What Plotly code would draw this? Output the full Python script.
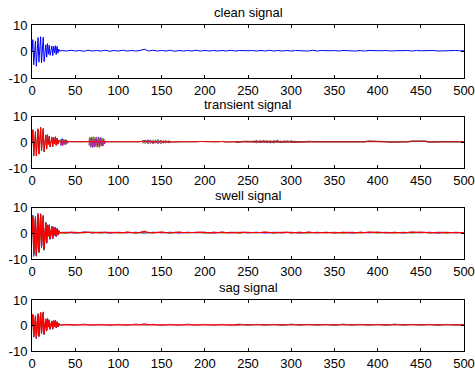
import plotly.graph_objects as go

# ---------------- data ----------------
x_head = list(range(0, 33))                 # sample index 0..32
x_tail = list(range(35, 501, 5))            # sample index 35..500
x_tail_c = list(range(40, 501, 10))         # coarse tail for secondary series

clean_head = [0.0, 4.5, -5.0, -1.0, 4.0, -5.5, 1.0, 5.3, -4.0, -0.5, 5.6, -4.2, 2.0, 5.4, -3.8, 1.0,
              2.6, -2.1, 3.0, -1.0, 2.4, -1.4, 0.5, 2.1, -1.5, 1.9, -0.5, 2.2, -1.1, 2.0, -0.6, 0.9, 0.2]
clean_tail = [0.4, 0.2, 0.5, 0.2, 0.4, 0.1, 0.5, 0.2, 0.4, 0.2, 0.5, 0.1, 0.4, 0.2, 0.5, 0.2, 0.4, 0.2, 0.4, 0.9,
              0.2, 0.5, 0.2, 0.4, 0.2, 0.5, 0.1, 0.4, 0.2, 0.4, 0.2, 0.5, 0.2, 0.4, 0.2, 0.4, 0.2, 0.4, 0.2, 0.5,
              0.2, 0.4, 0.3, 0.3, 0.4, 0.2, 0.4, 0.2, 0.5, 0.2, 0.4, 0.2, 0.4, 0.2, 0.4, 0.3, 0.4, 0.2, 0.5, 0.2,
              0.4, 0.3, 0.3, 0.4, 0.2, 0.4, 0.3, 0.4, 0.2, 0.4, 0.2, 0.4, 0.3, 0.4, 0.3, 0.4, 0.2, 0.3, 0.4, 0.3,
              0.4, 0.2, 0.4, 0.3, 0.4, 0.3, 0.4, 0.2, 0.3, 0.4, 0.3, 0.4, 0.3, 0.3]

# transient signal
tr_red_head = [0.0, 4.8, -5.0, -0.5, 4.0, -5.3, 1.2, 5.1, -4.6, -0.8, 5.8, -3.0, 1.5, 5.6, -3.4, 0.5,
               2.8, -2.3, 2.9, -0.8, 2.2, -1.6, 0.4, 2.0, -1.4, 1.8, -0.4, 2.0, -1.0, 1.6, -0.5, 0.8, 0.2]
tr_gray_head = [0.0, 5.1, -5.3, -0.3, 4.3, -5.0, 1.5, 5.4, -4.3, -0.5, 6.0, -3.3, 1.8, 5.2, -3.7, 0.8,
                3.0, -2.6, 3.1, -0.6, 2.5, -1.8, 0.6, 2.2, -1.7, 2.0, -0.6, 2.3, -1.2, 1.8, -0.7, 1.0, 0.3]
tr_red_tail = [0.3, 0.2, 0.4, 0.3, 0.2, 0.3, 0.4, 0.2, 0.3, 0.3, 0.4, 0.2, 0.3, 0.3, 0.2, 0.4, 0.3, 0.2, 0.3, 0.6,
               0.3, 0.2, 0.3, 0.4, 0.3, 0.2, 0.3, 0.4, 0.3, 0.3, 0.2, 0.3, 0.4, 0.3, 0.2, 0.3, 0.3, 0.4, 0.2, 0.3,
               0.3, 0.2, 0.4, 0.3, 0.3, 0.2, 0.3, 0.4, 0.3, 0.2, 0.3, 0.3, 0.4, 0.2, 0.3, 0.3, 0.2, 0.4, 0.3, 0.3,
               0.3, 0.4, 0.3, 0.2, 0.3, 0.4, 0.4, 0.3, 0.2, 0.3, 0.3, 0.5, 0.5, 0.5, 0.5, 0.3, 0.2, 0.2, 0.2, 0.3,
               0.3, 0.5, 0.5, 0.5, 0.5, 0.2, 0.3, 0.3, 0.3, 0.3, 0.3, 0.3, 0.3, 0.3]
# transient bursts: segments of sample indices
tb_x1 = list(range(33, 43))
tb_x2 = list(range(66, 86))
tb_x3 = list(range(128, 162, 3))
tb_x4 = list(range(256, 309, 4))
tr_blue = [1.2, -0.8, 1.5, -1.0, 0.9, -0.6, 1.1, -0.4, 0.7, 0.3,
           0.5, 1.8, -1.5, 2.2, -1.2, 1.6, -1.8, 2.0, -0.9, 1.4, -1.6, 2.1, -1.0, 1.7, -1.3, 1.2, -0.8, 1.5, -0.6, 0.4,
           0.9, -0.4, 1.1, -0.5, 0.8, -0.3, 1.2, -0.6, 0.7, -0.2, 0.6, 0.3,
           0.7, -0.1, 0.8, 0.0, 0.6, -0.2, 0.7, 0.1, 0.5, 0.0, 0.6, 0.1, 0.4, 0.3]
tr_green = [-0.9, 1.4, -1.1, 1.0, -0.7, 1.2, -0.5, 0.8, -0.2, 0.4,
            -1.2, 2.0, -1.9, 1.5, -1.4, 2.3, -1.1, 1.8, -1.7, 1.0, -1.3, 1.6, -2.0, 1.2, -0.9, 1.9, -1.1, 0.8, -0.4, 0.5,
            -0.3, 1.0, -0.6, 0.9, -0.2, 1.1, -0.5, 0.6, -0.1, 0.8, 0.0, 0.4,
            0.0, 0.8, -0.1, 0.7, 0.1, 0.6, -0.2, 0.8, 0.0, 0.5, 0.1, 0.7, 0.2, 0.3]
tr_yellow = [1.0, -1.2, 0.8, -0.9, 1.3, -0.4, 0.6, -0.7, 0.9, 0.2,
             1.5, -1.0, 1.9, -1.7, 1.1, -1.4, 2.2, -1.2, 1.6, -1.9, 1.3, -1.1, 1.8, -1.5, 1.0, -1.0, 1.4, -0.7, 1.0, 0.3,
             1.0, -0.5, 0.7, -0.4, 1.2, -0.2, 0.9, -0.5, 1.0, -0.1, 0.7, 0.2,
             0.8, 0.0, 0.6, 0.1, 0.9, -0.1, 0.6, 0.0, 0.7, 0.1, 0.5, 0.0, 0.6, 0.3]
tr_magenta = [-1.1, 0.9, -1.3, 1.2, -0.8, 0.7, -0.9, 1.0, -0.3, 0.2,
              -0.8, 1.6, -1.3, 1.9, -2.1, 1.2, -1.5, 1.4, -1.1, 2.2, -1.8, 1.0, -1.4, 2.0, -1.2, 0.9, -1.5, 1.1, -0.5, 0.3,
              -0.4, 0.8, -0.3, 1.1, -0.6, 0.7, -0.4, 1.0, -0.2, 0.6, -0.1, 0.3,
              0.1, 0.7, 0.0, 0.8, -0.1, 0.6, 0.1, 0.9, 0.0, 0.6, 0.2, 0.5, 0.1, 0.3]

# swell signal
sw_red_head = [0.0, 6.5, -7.5, -1.0, 6.0, -8.5, 1.5, 7.5, -7.0, -1.0, 7.8, -5.0, 2.0, 6.8, -6.0, 0.5,
               4.0, -3.5, 3.0, -1.0, 3.2, -2.0, 0.5, 2.6, -1.8, 2.4, -0.5, 2.2, -1.0, 1.8, -0.5, 1.0, 0.2]
sw_blue_head = [0.0, 7.2, -9.0, -0.6, 6.5, -8.8, 1.9, 7.9, -7.4, -0.6, 7.4, -5.6, 2.4, 7.1, -6.4, 0.9,
                4.4, -3.9, 3.4, -0.7, 3.5, -2.3, 0.8, 2.9, -2.1, 2.6, -0.8, 2.4, -1.2, 2.0, -0.7, 1.2, 0.3]
sw_green_head = [0.0, 6.9, -8.2, -1.3, 6.8, -8.1, 1.2, 7.0, -7.6, -1.3, 7.2, -5.3, 1.7, 6.4, -6.6, 0.3,
                 4.3, -3.2, 3.3, -1.2, 3.0, -2.2, 0.3, 2.4, -1.7, 2.2, -0.4, 2.0, -1.1, 1.6, -0.6, 0.9, 0.2]
sw_gray_head = [0.0, 6.2, -8.0, -0.8, 5.7, -8.9, 1.3, 7.2, -7.2, -0.9, 7.5, -5.4, 2.2, 6.6, -6.2, 0.6,
                4.1, -3.7, 3.2, -0.9, 3.3, -2.1, 0.6, 2.7, -1.9, 2.5, -0.6, 2.3, -1.1, 1.9, -0.6, 1.1, 0.2]
sw_red_tail = [0.4, 0.2, 0.5, 0.3, 0.2, 0.4, 0.5, 0.2, 0.4, 0.3, 0.5, 0.2, 0.4, 0.3, 0.2, 0.5, 0.3, 0.2, 0.4, 0.8,
               0.3, 0.2, 0.4, 0.5, 0.3, 0.2, 0.4, 0.5, 0.3, 0.3, 0.2, 0.4, 0.5, 0.3, 0.2, 0.4, 0.3, 0.5, 0.2, 0.3,
               0.4, 0.2, 0.5, 0.3, 0.3, 0.2, 0.4, 0.5, 0.3, 0.2, 0.4, 0.3, 0.5, 0.2, 0.3, 0.4, 0.2, 0.5, 0.3, 0.3,
               0.4, 0.5, 0.3, 0.2, 0.3, 0.5, 0.4, 0.3, 0.2, 0.4, 0.3, 0.5, 0.5, 0.5, 0.4, 0.3, 0.2, 0.2, 0.3, 0.3,
               0.4, 0.5, 0.5, 0.5, 0.4, 0.2, 0.3, 0.3, 0.4, 0.3, 0.3, 0.4, 0.3, 0.3]
sw_blue_tail = [0.5, 0.1, 0.6, 0.2, 0.5, 0.1, 0.5, 0.2, 0.5, 0.1, 0.5, 0.2, 0.5, 0.1, 0.5, 0.2,
                0.5, 0.1, 0.5, 0.2, 0.5, 0.2, 0.5, 0.1, 0.5, 0.2, 0.5, 0.1, 0.5, 0.2, 0.5, 0.2,
                0.5, 0.1, 0.5, 0.2, 0.5, 0.2, 0.5, 0.1, 0.5, 0.2, 0.5, 0.1, 0.5, 0.2, 0.4]
sw_green_tail = [0.1, 0.5, 0.2, 0.6, 0.1, 0.5, 0.2, 0.5, 0.1, 0.5, 0.2, 0.5, 0.1, 0.5, 0.2, 0.5,
                 0.1, 0.5, 0.2, 0.5, 0.1, 0.5, 0.2, 0.5, 0.1, 0.5, 0.2, 0.5, 0.1, 0.5, 0.2, 0.5,
                 0.1, 0.5, 0.2, 0.5, 0.1, 0.5, 0.2, 0.5, 0.1, 0.5, 0.2, 0.5, 0.1, 0.5, 0.3]

# sag signal
sg_red_head = [0.0, 4.5, -4.2, -0.5, 3.6, -4.8, 1.0, 4.4, -4.0, -0.6, 5.2, -2.8, 1.2, 5.4, -3.2, 0.4,
               2.4, -1.9, 2.6, -0.6, 2.0, -1.3, 0.3, 1.7, -1.2, 1.8, -0.3, 1.9, -0.7, 1.4, -0.4, 0.8, 0.2]
sg_purple_head = [0.0, 4.0, -4.6, -0.2, 3.2, -5.3, 1.3, 4.8, -4.5, -0.3, 4.8, -3.3, 1.5, 5.0, -3.7, 0.7,
                  2.7, -2.2, 2.9, -0.4, 2.3, -1.6, 0.5, 1.9, -1.5, 2.0, -0.5, 2.2, -0.9, 1.6, -0.5, 0.9, 0.3]
sg_gray_head = [0.0, 4.2, -4.4, -0.4, 3.9, -5.0, 1.1, 4.6, -4.2, -0.4, 5.0, -3.0, 1.4, 5.2, -3.5, 0.5,
                2.5, -2.0, 2.7, -0.5, 2.1, -1.4, 0.4, 1.8, -1.3, 1.9, -0.4, 2.0, -0.8, 1.5, -0.4, 0.8, 0.2]
sg_red_tail = [0.3, 0.3, 0.4, 0.3, 0.3, 0.4, 0.4, 0.3, 0.3, 0.3, 0.4, 0.3, 0.3, 0.3, 0.3, 0.4, 0.3, 0.3, 0.3, 0.7,
               0.3, 0.3, 0.3, 0.4, 0.3, 0.3, 0.3, 0.4, 0.3, 0.3, 0.3, 0.3, 0.4, 0.3, 0.3, 0.3, 0.3, 0.4, 0.3, 0.3,
               0.3, 0.3, 0.4, 0.3, 0.3, 0.3, 0.3, 0.4, 0.3, 0.3, 0.3, 0.3, 0.4, 0.3, 0.3, 0.3, 0.3, 0.4, 0.3, 0.3,
               0.3, 0.4, 0.3, 0.3, 0.3, 0.4, 0.4, 0.3, 0.2, 0.3, 0.3, 0.4, 0.4, 0.4, 0.3, 0.3, 0.2, 0.2, 0.2, 0.3,
               0.3, 0.4, 0.4, 0.4, 0.3, 0.2, 0.3, 0.3, 0.3, 0.3, 0.3, 0.3, 0.3, 0.3]
sg_purple_tail = [0.5, 0.1, 0.6, 0.1, 0.5, 0.0, 0.5, 0.1, 0.6, 0.1, 0.5, 0.0, 0.5, 0.1, 0.6, 0.1,
                  0.5, 0.1, 0.5, 0.0, 0.6, 0.1, 0.5, 0.1, 0.5, 0.0, 0.6, 0.1, 0.5, 0.1, 0.5, 0.0,
                  0.6, 0.1, 0.5, 0.1, 0.5, 0.0, 0.6, 0.1, 0.5, 0.1, 0.5, 0.0, 0.5, 0.1, 0.3]

titles = ["clean signal", "transient signal", "swell signal", "sag signal"]
x_ticks = [0, 50, 100, 150, 200, 250, 300, 350, 400, 450, 500]
y_ticks = [-10, 0, 10]

# ---------------- figure ----------------
BLUE = "#0000ff"; GREEN = "#008000"; RED = "#ff0000"; CYAN = "#00bfbf"
MAGENTA = "#bf00bf"; YELLOW = "#bfbf00"; GRAY = "#404040"; BROWN = "#b42323"; PURPLE = "#5a3c9a"

fig = go.Figure()


def ax(i):
    return ("x" if i == 1 else f"x{i}"), ("y" if i == 1 else f"y{i}")


def add(i, x, y, color, width=1.0, opacity=1.0):
    xa, ya = ax(i)
    fig.add_trace(go.Scatter(x=x, y=y, mode="lines", line=dict(color=color, width=width),
                             opacity=opacity, xaxis=xa, yaxis=ya, showlegend=False, hoverinfo="skip"))


def segs(xs_list, ys):
    xx, yy, k = [], [], 0
    for xs in xs_list:
        xx += xs + [None]
        yy += ys[k:k + len(xs)] + [None]
        k += len(xs)
    return xx, yy


def split_tail(xs, ys, cut):
    a = [(x, y) for x, y in zip(xs, ys) if x <= cut]
    b = [(x, y) for x, y in zip(xs, ys) if x >= cut - 5]
    return [p[0] for p in a], [p[1] for p in a], [p[0] for p in b], [p[1] for p in b]


# 1 clean
add(1, x_head + x_tail, clean_head + clean_tail, BLUE)

# 2 transient
add(2, x_head + x_tail, tr_gray_head + tr_red_tail, GRAY)
tsegs = [tb_x1, tb_x2, tb_x3, tb_x4]
for col, vals in ((BLUE, tr_blue), (GREEN, tr_green), (YELLOW, tr_yellow), (MAGENTA, tr_magenta)):
    bx, by = segs(tsegs, vals)
    add(2, bx, by, col, 1.0, 0.8)
ax1, ay1, ax2, ay2 = split_tail(x_tail, tr_red_tail, 240)
add(2, x_head + ax1, tr_red_head + ay1, RED)
add(2, ax2, ay2, BROWN, 1.5)

# 3 swell
add(3, x_head + x_tail_c, sw_blue_head + sw_blue_tail, BLUE, 1.0, 0.8)
add(3, x_head + x_tail_c, sw_green_head + sw_green_tail, GREEN, 1.0, 0.8)
add(3, x_head, sw_gray_head, GRAY)
add(3, x_head + x_tail, sw_red_head + sw_red_tail, RED, 1.3)

# 4 sag
add(4, x_head + x_tail_c, sg_purple_head + sg_purple_tail, PURPLE, 1.0, 0.8)
add(4, x_head, sg_gray_head, GRAY)
bx1, by1, bx2, by2 = split_tail(x_tail, sg_red_tail, 240)
add(4, x_head + bx1, sg_red_head + by1, RED, 1.3)
add(4, bx2, by2, "#d22020", 1.4)

domains = [[0.837, 1.0], [0.561, 0.718], [0.282, 0.439], [0.0, 0.156]]
FONT = "Liberation Sans, Arial, Helvetica, sans-serif"
layout = dict(width=475, height=372, margin=dict(l=32, r=11, t=25, b=21, autoexpand=False),
              paper_bgcolor="white", plot_bgcolor="white",
              font=dict(family=FONT, size=13, color="black"), annotations=[])
for i in range(1, 5):
    xk = "xaxis" if i == 1 else f"xaxis{i}"
    yk = "yaxis" if i == 1 else f"yaxis{i}"
    xa, ya = ax(i)
    layout[xk] = dict(domain=[0, 1], anchor=ya, range=[0, 500], tickvals=x_ticks,
                      ticktext=[str(t) for t in x_ticks], ticks="inside", ticklen=3, tickcolor="black",
                      showline=True, linecolor="black", linewidth=1, mirror="ticks", automargin=False,
                      showgrid=False, zeroline=False, tickfont=dict(size=13), ticklabelstandoff=0)
    layout[yk] = dict(domain=domains[i - 1], anchor=xa, range=[-10, 10], tickvals=y_ticks,
                      ticktext=[str(t) for t in y_ticks], ticks="inside", ticklen=3, tickcolor="black",
                      showline=True, linecolor="black", linewidth=1, mirror="ticks", automargin=False,
                      showgrid=False, zeroline=False, tickfont=dict(size=13), ticklabelstandoff=1)
    layout["annotations"].append(dict(text=titles[i - 1], xref="paper", yref="paper", x=0.5,
                                      y=domains[i - 1][1], yanchor="bottom", xanchor="center",
                                      showarrow=False, yshift=3, font=dict(size=13)))
fig.update_layout(**layout)
fig.write_html("out.html")
